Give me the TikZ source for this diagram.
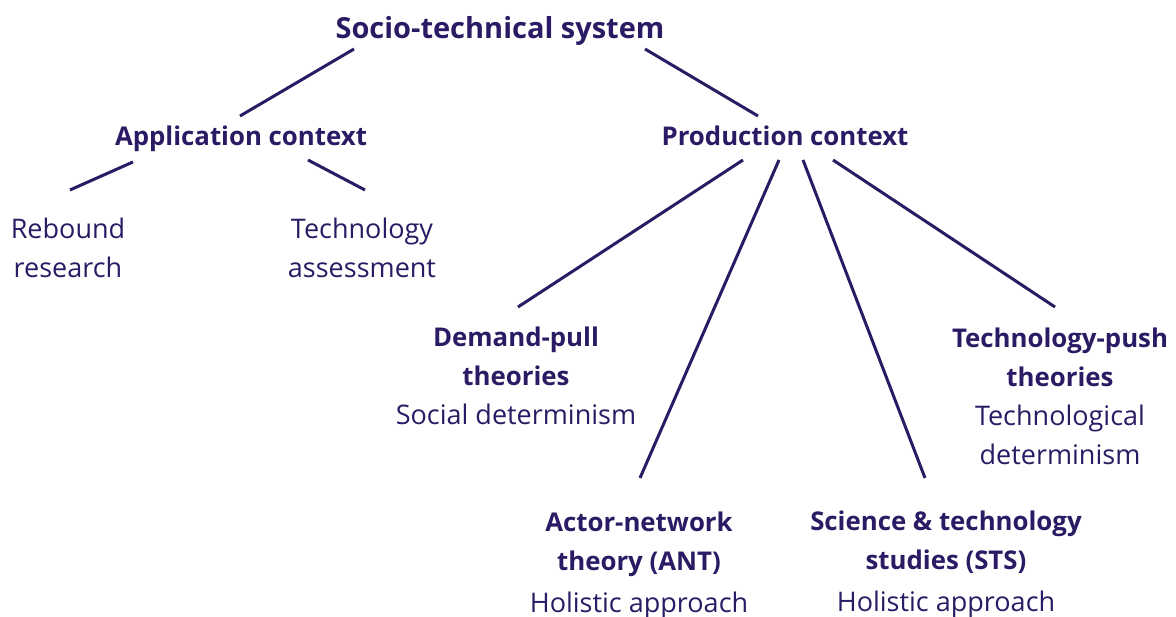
\documentclass[tikz,border=0pt]{standalone}
\usepackage{fontspec}
\setmainfont{Open Sans}
\definecolor{ink}{HTML}{2B1A64}
\newcommand{\hdf}{\fontsize{25.8}{39}\selectfont\bfseries}
\newcommand{\ttlf}{\fontsize{29}{39}\selectfont\bfseries}
\begin{document}
\begin{tikzpicture}[x=1pt,y=-1pt,
  txt/.style={inner sep=0pt,align=center,text=ink,font=\fontsize{27}{39}\selectfont},
  hd/.style={txt,font=\hdf},
  link/.style={draw=ink,line width=3pt}]
\useasboundingbox (0,0) rectangle (1176,617);
\node[txt,font=\ttlf,anchor=base] (socio) at (500,39) {Socio-technical system};
\node[hd,anchor=base] (app) at (241,146) {Application context};
\node[hd,anchor=base] (prod) at (785,146) {Production context};
\node[txt] (reb) at (68,248) {Rebound\\research};
\node[txt] (ta) at (362,248) {Technology\\assessment};
\node[txt] (dp) at (516,376) {{\hdf Demand-pull}\\{\hdf theories}\\Social determinism};
\node[txt] (tp) at (1060,396) {{\hdf Technology-push}\\{\hdf theories}\\Technological\\determinism};
\node[txt] (ant) at (639,565) {{\hdf Actor-network}\\{\hdf theory (ANT)}\\[3pt]Holistic approach};
\node[txt] (sts) at (946,564) {{\hdf Science \& technology}\\{\hdf studies (STS)}\\[3pt]Holistic approach};
% connector end points
\coordinate (s1) at (354,49);  \coordinate (a0) at (240,116);
\coordinate (s2) at (645,49);  \coordinate (p0) at (758,116);
\coordinate (a1) at (133,162); \coordinate (reb0) at (70,190);
\coordinate (a2) at (308,160); \coordinate (ta0) at (365,190);
\coordinate (p1) at (743,160); \coordinate (dp0) at (518,307);
\coordinate (p2) at (779,160); \coordinate (ant0) at (640,478);
\coordinate (p3) at (803,160); \coordinate (sts0) at (925,478);
\coordinate (p4) at (833,160); \coordinate (tp0) at (1055,307);
\draw[link] (s1) -- (a0);
\draw[link] (s2) -- (p0);
\draw[link] (a1) -- (reb0);
\draw[link] (a2) -- (ta0);
\draw[link] (p1) -- (dp0);
\draw[link] (p2) -- (ant0);
\draw[link] (p3) -- (sts0);
\draw[link] (p4) -- (tp0);
\end{tikzpicture}
\end{document}
